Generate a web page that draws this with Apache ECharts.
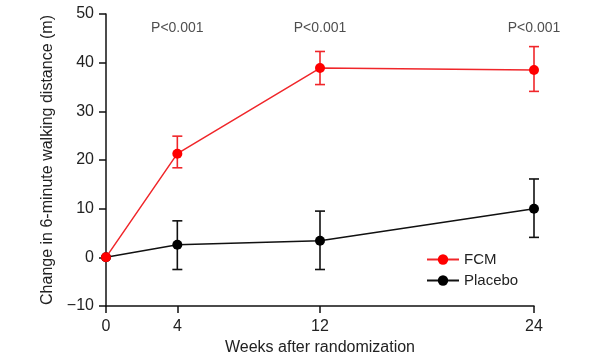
<!DOCTYPE html>
<html><head><meta charset="utf-8">
<script src="https://cdn.jsdelivr.net/npm/echarts@6/dist/echarts.min.js"></script>
<style>html,body{margin:0;padding:0;background:#fff}#c{width:600px;height:363px}</style>
</head><body><div id="c"></div>
<script>
const weeks = [0, 4, 12, 24];
const fcmMean = [0, 21.3, 38.9, 38.5];
const fcmLow = [0, 18.4, 35.5, 34.1];
const fcmHigh = [0, 24.9, 42.3, 43.3];
const placeboMean = [0, 2.6, 3.4, 10.0];
const placeboLow = [0, -2.5, -2.5, 4.1];
const placeboHigh = [0, 7.5, 9.5, 16.1];
const pWeeks = [4, 12, 24];
const pLabels = ['P<0.001', 'P<0.001', 'P<0.001'];
const pY = 47.0;

const FONT = '"Liberation Sans", Arial, sans-serif';
const TXT = '#222';

function errSeries(name, color, low, high) {
  return {
    type: 'custom', name: name + '_err', z: 3, silent: true,
    data: weeks.map((w, i) => [w, low[i], high[i]]).filter(d => d[1] !== d[2]),
    renderItem: function (params, api) {
      const top = api.coord([api.value(0), api.value(2)]);
      const bot = api.coord([api.value(0), api.value(1)]);
      const hw = 5;
      const st = { stroke: color, lineWidth: 1.6, fill: null };
      return { type: 'group', children: [
        { type: 'line', shape: { x1: top[0], y1: top[1], x2: bot[0], y2: bot[1] }, style: st },
        { type: 'line', shape: { x1: top[0] - hw, y1: top[1], x2: top[0] + hw, y2: top[1] }, style: st },
        { type: 'line', shape: { x1: bot[0] - hw, y1: bot[1], x2: bot[0] + hw, y2: bot[1] }, style: st }
      ]};
    }
  };
}

const chart = echarts.init(document.getElementById('c'), null, { renderer: 'canvas' });
chart.setOption({
  animation: false,
  textStyle: { fontFamily: FONT },
  grid: { left: 106, right: 66, top: 14, bottom: 57, containLabel: false },
  legend: {
    data: ['FCM', 'Placebo'], orient: 'vertical', left: 421, top: 247,
    itemWidth: 32, itemHeight: 13, itemGap: 6,
    textStyle: { fontFamily: FONT, fontSize: 15, color: TXT }
  },
  xAxis: {
    type: 'value', min: 0, max: 24, interval: 4,
    name: 'Weeks after randomization', nameLocation: 'middle', nameGap: 34,
    nameTextStyle: { fontFamily: FONT, fontSize: 16, color: TXT },
    axisLine: { onZero: false, lineStyle: { color: '#111', width: 1.5 } },
    axisTick: { length: 7, lineStyle: { color: '#111', width: 1.5 }, customValues: weeks },
    axisLabel: { fontFamily: FONT, fontSize: 16, color: TXT, margin: 13, customValues: weeks },
    splitLine: { show: false }
  },
  yAxis: {
    type: 'value', min: -10, max: 50, interval: 10,
    name: 'Change in 6-minute walking distance (m)', nameLocation: 'middle', nameGap: 48,
    nameTextStyle: { fontFamily: FONT, fontSize: 16, color: TXT },
    axisLine: { show: true, lineStyle: { color: '#111', width: 1.5 } },
    axisTick: { show: true, length: 7, lineStyle: { color: '#111', width: 1.5 } },
    axisLabel: { fontFamily: FONT, fontSize: 16, color: TXT, margin: 12, formatter: v => v < 0 ? '\u2212' + Math.abs(v) : String(v) },
    splitLine: { show: false }
  },
  series: [
    errSeries('Placebo', '#111', placeboLow, placeboHigh),
    {
      name: 'Placebo', type: 'line', z: 4,
      data: weeks.map((w, i) => [w, placeboMean[i]]),
      symbol: 'circle', symbolSize: 10,
      itemStyle: { color: '#000' }, lineStyle: { color: '#111', width: 1.5 }
    },
    errSeries('FCM', '#f0262a', fcmLow, fcmHigh),
    {
      name: 'FCM', type: 'line', z: 5,
      data: weeks.map((w, i) => [w, fcmMean[i]]),
      symbol: 'circle', symbolSize: 10,
      itemStyle: { color: '#ff0000' }, lineStyle: { color: '#f0262a', width: 1.5 }
    },
    {
      type: 'scatter', name: 'p', silent: true, symbolSize: 0,
      data: pWeeks.map((w, i) => ({ value: [w, pY], label: { formatter: pLabels[i] } })),
      label: { show: true, position: 'inside', fontFamily: FONT, fontSize: 14, color: TXT }
    }
  ]
});
</script></body></html>
